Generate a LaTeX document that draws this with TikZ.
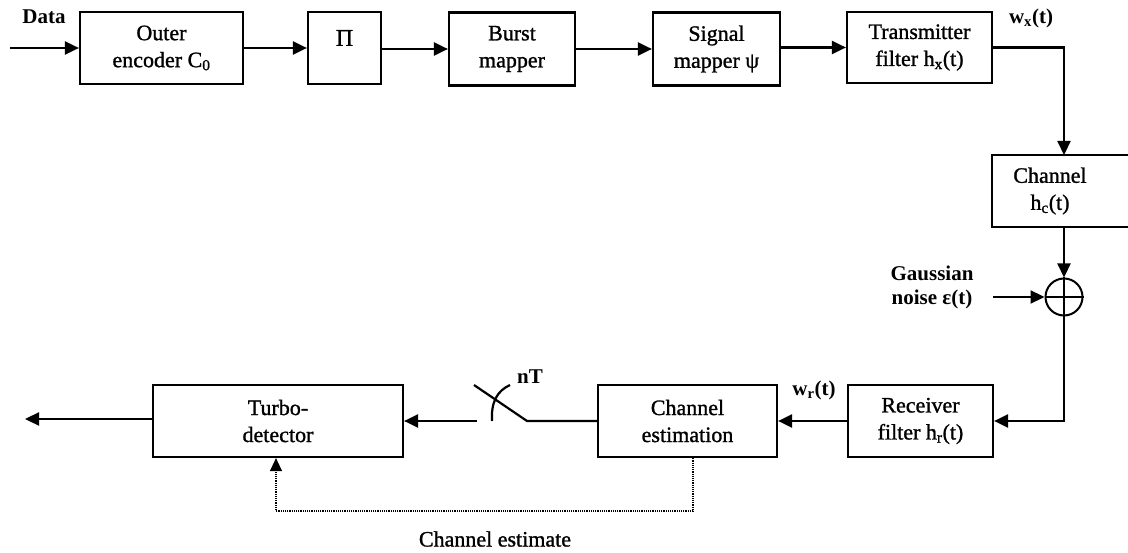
\documentclass[tikz,border=0pt]{standalone}
\usepackage{fontspec}
\setmainfont{Liberation Serif}[FakeBold=1.2]
\newfontfamily\boldlbl{Liberation Serif Bold}
\usetikzlibrary{arrows.meta}
\begin{document}
\begin{tikzpicture}[x=1pt,y=-1pt,
  font=\fontsize{22}{27}\selectfont,
  box/.style={draw, line width=2.2pt, align=center, inner sep=0pt},
  conn/.style={line width=2.2pt},
  arr/.style={line width=2.2pt, -{Triangle[length=14pt,width=13pt]}},
  dotarr/.style={line width=1.2pt, densely dotted, -{Triangle[length=13pt,width=12pt]}},
  lbl/.style={inner sep=0pt, align=center},
  blbl/.style={inner sep=0pt, align=center, font=\fontsize{21}{24}\selectfont\boldlbl}]
\clip (0,0) rectangle (1128,553);
\useasboundingbox (0,0) rectangle (1128,553);
% top row
\node[box, minimum width=163pt, minimum height=72pt] (outer) at (161.5,48) {Outer\\encoder C\textsubscript{0}};
\node[box, minimum width=73pt, minimum height=72pt] (pi) at (344.5,48) {};
\node[lbl, font=\fontsize{24}{27}\selectfont] (pisym) at (344.5,38) {Π};
\node[box, minimum width=126pt, minimum height=73pt] (burst) at (512,49) {Burst\\mapper};
\node[box, minimum width=127pt, minimum height=73pt] (sig) at (716.5,49) {Signal\\mapper ψ};
\node[box, minimum width=145pt, minimum height=71pt] (trans) at (919.5,47.5) {Transmitter\\filter h\textsubscript{x}(t)};
% channel (box runs past the right edge)
\node[box, draw=none, minimum width=116pt, minimum height=72pt] (chan) at (1050,191) {Channel\\h\textsubscript{c}(t)};
\draw[line width=2.2pt] (992,155) rectangle (1150,227);
% summing junction
\node[draw, circle, line width=2pt, minimum size=37pt, inner sep=0pt] (sum) at (1064,297) {};
\draw[line width=1.8pt] (sum.west) -- (sum.east) (sum.north) -- (sum.south);
% bottom row
\node[box, minimum width=250pt, minimum height=72pt] (turbo) at (278,421) {Turbo-\\detector};
\node[box, minimum width=179pt, minimum height=72pt] (est) at (687.5,421) {Channel\\estimation};
\node[box, minimum width=145pt, minimum height=72pt] (recv) at (920.5,421) {Receiver\\filter h\textsubscript{r}(t)};
% coordinates
\coordinate (din) at (10,48);
\coordinate (chtop) at (1064,155);
\coordinate (chbot) at (1064,227);
\coordinate (nin) at (993,297);
\coordinate (dout) at (25,419);
\coordinate (swR) at (527,421);
\coordinate (swL) at (474,385);
\coordinate (swA) at (477,421);
\coordinate (dotD) at (693,511);
\coordinate (dotL) at (276,511);
% labels
\node[blbl] (data) at (44,17) {Data};
\node[blbl] (wx) at (1031,18) {w\textsubscript{x}(t)};
\node[blbl] (gauss) at (932,287) {Gaussian\\noise ε(t)};
\node[blbl] (nt) at (530,377) {nT};
\node[blbl] (wr) at (814,390) {w\textsubscript{r}(t)};
\node[lbl] (cest) at (495,539) {Channel estimate};
% connectors
\draw[arr] (din) -- (outer.west);
\draw[arr] (outer.east) -- (pi.west);
\draw[arr] (pi.east |- burst.west) -- (burst.west);
\draw[arr] (burst.east) -- (sig.west);
\draw[arr] (sig.east |- trans.west) -- (trans.west);
\draw[arr] (trans.east) -| (chtop);
\draw[arr] (chbot) -- (sum.north);
\draw[arr] (nin) -- (sum.west);
\draw[arr] (sum.south) |- (recv.east);
\draw[arr] (recv.west) -- (est.east);
\draw[conn] (est.west) -- (swR) -- (swL);
\draw[conn] (492,421) .. controls (491,402) and (497,391) .. (510,385);
\draw[arr] (swA) -- (turbo.east);
\draw[arr] (turbo.west |- dout) -- (dout);
\draw[dotarr] (est.south -| dotD) -- (dotD) -- (dotL) -- (turbo.south -| dotL);
\end{tikzpicture}
\end{document}
